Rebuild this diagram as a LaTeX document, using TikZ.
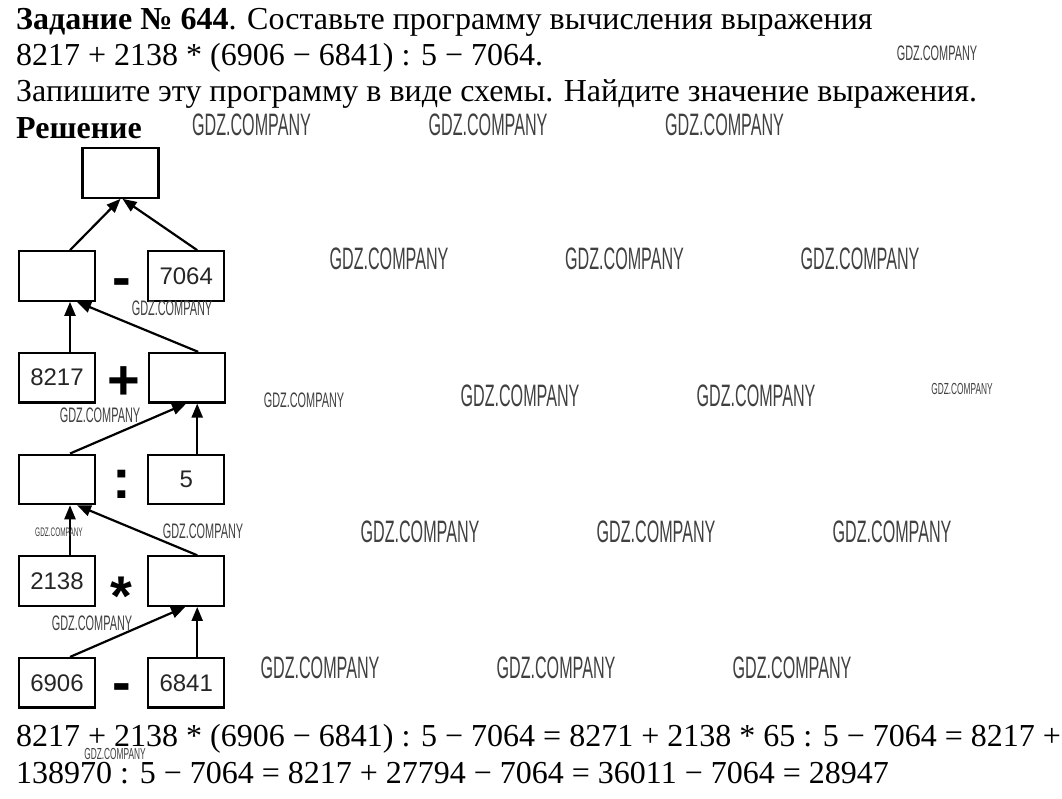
\documentclass[tikz,border=0pt]{standalone}
\usepackage{fontspec}
\setmainfont{Liberation Serif}
\newfontfamily\boxfont{Liberation Sans}
\newfontfamily\wmfont[FakeStretch=0.52]{Liberation Sans}
\usetikzlibrary{positioning,arrows.meta,calc}
\tikzstyle{num_box}=[draw=black, line width=2.2pt, minimum width=76pt, minimum height=49.5pt, inner sep=0pt, font=\boxfont\fontsize{24}{24}\selectfont, text=black!85]
\tikzstyle{up_edge}=[-{Triangle[length=14pt,width=11pt]}, draw=black, line width=2.2pt]
\tikzstyle{op}=[font=\boxfont\bfseries\fontsize{56}{56}\selectfont, anchor=base, inner sep=0pt]
\tikzstyle{text_line}=[anchor=base west, inner sep=0pt, font=\fontsize{32}{32}\selectfont]
\tikzstyle{wm}=[inner sep=0pt, text=black!75, font=\wmfont\fontsize{31}{31}\selectfont]
\tikzstyle{wm_mid}=[inner sep=0pt, text=black!75, font=\wmfont\fontsize{21}{21}\selectfont]
\tikzstyle{wm_small}=[inner sep=0pt, text=black!75, font=\wmfont\fontsize{16}{16}\selectfont]
\tikzstyle{wm_tiny}=[inner sep=0pt, text=black!75, font=\wmfont\fontsize{12.4}{12.4}\selectfont]

\begin{document}
\begin{tikzpicture}[x=1pt, y=-1pt]
        \useasboundingbox[fill=white] (0,0) rectangle (1062,798);
        % task text
        \node[text_line] (t1) at (16,29) {\textbf{Задание № 644}. Составьте программу вычисления выражения};
        \node[text_line] (t2) at (16,65) {8217 + 2138 * (6906 − 6841) : 5 − 7064.};
        \node[text_line] (t3) at (16,101) {Запишите эту программу в виде схемы. Найдите значение выражения.};
        \node[text_line] (t4) at (16,138) {\textbf{Решение}};
        % scheme
        \node[num_box] (0) at (120.5,173) {};
        \node[num_box] (1) at (57,276) {};
        \node[num_box, right=51pt of 1] (2) {7064};
        \node[num_box, below=50pt of 1] (3) {8217};
        \node[num_box, right=52pt of 3] (4) {};
        \node[num_box, below=50pt of 3] (5) {};
        \node[num_box, right=51pt of 5] (6) {5};
        \node[num_box, below=50pt of 5] (7) {2138};
        \node[num_box, right=51pt of 7] (8) {};
        \node[num_box, below=50pt of 7] (9) {6906};
        \node[num_box, right=51pt of 9] (10) {6841};
        \node[op, yshift=-20pt] (o1) at ($(1.east)!0.5!(2.west)$) {-};
        \node[op, yshift=-22pt, xshift=2pt] (o2) at ($(3.east)!0.5!(4.west)$) {+};
        \node[op, yshift=-19pt] (o3) at ($(5.east)!0.5!(6.west)$) {:};
        \node[op, yshift=-34pt] (o4) at ($(7.east)!0.5!(8.west)$) {*};
        \node[op, yshift=-19pt] (o5) at ($(9.east)!0.5!(10.west)$) {-};
        \draw[up_edge] ([xshift=13pt]1.north) to (0.south);
        \draw[up_edge] ([xshift=11pt]2.north) to ([xshift=2pt]0.south);
        \draw[up_edge] ([xshift=13pt]3.north) to ([xshift=13pt]1.south);
        \draw[up_edge] ([xshift=11pt]4.north) to ([xshift=20pt]1.south);
        \draw[up_edge] ([xshift=13pt]5.north) to ([xshift=-1pt]4.south);
        \draw[up_edge] ([xshift=11pt]6.north) to ([xshift=10pt]4.south);
        \draw[up_edge] ([xshift=13pt]7.north) to ([xshift=13pt]5.south);
        \draw[up_edge] ([xshift=11pt]8.north) to ([xshift=20pt]5.south);
        \draw[up_edge] ([xshift=13pt]9.north) to ([xshift=-1pt]8.south);
        \draw[up_edge] ([xshift=11pt]10.north) to ([xshift=11pt]8.south);
        % solution
        \node[text_line] (s1) at (16,746) {8217 + 2138 * (6906 − 6841) : 5 − 7064 = 8271 + 2138 * 65 : 5 − 7064 = 8217 +};
        \node[text_line] (s2) at (16,783) {138970 : 5 − 7064 = 8217 + 27794 − 7064 = 36011 − 7064 = 28947};
        % watermarks
        \foreach \wx/\wy in {251.5/125, 488/125, 724.5/125, 389/259, 624.5/259, 860/259, 520/396, 756/396, 420/532, 656/532, 892/532, 320/668, 556/668, 792/668}
            \node[wm] at (\wx,\wy) {GDZ.COMPANY};
        \foreach \wx/\wy in {937/53, 172/308.5, 100/415, 304/400, 203/531.5, 92/623.5}
            \node[wm_mid] at (\wx,\wy) {GDZ.COMPANY};
        \node[wm_small] (w1) at (962,389) {GDZ.COMPANY};
        \node[wm_small] (w2) at (115,754) {GDZ.COMPANY};
        \node[wm_tiny] (w3) at (59,532.5) {GDZ.COMPANY};
    \end{tikzpicture}
\end{document}
